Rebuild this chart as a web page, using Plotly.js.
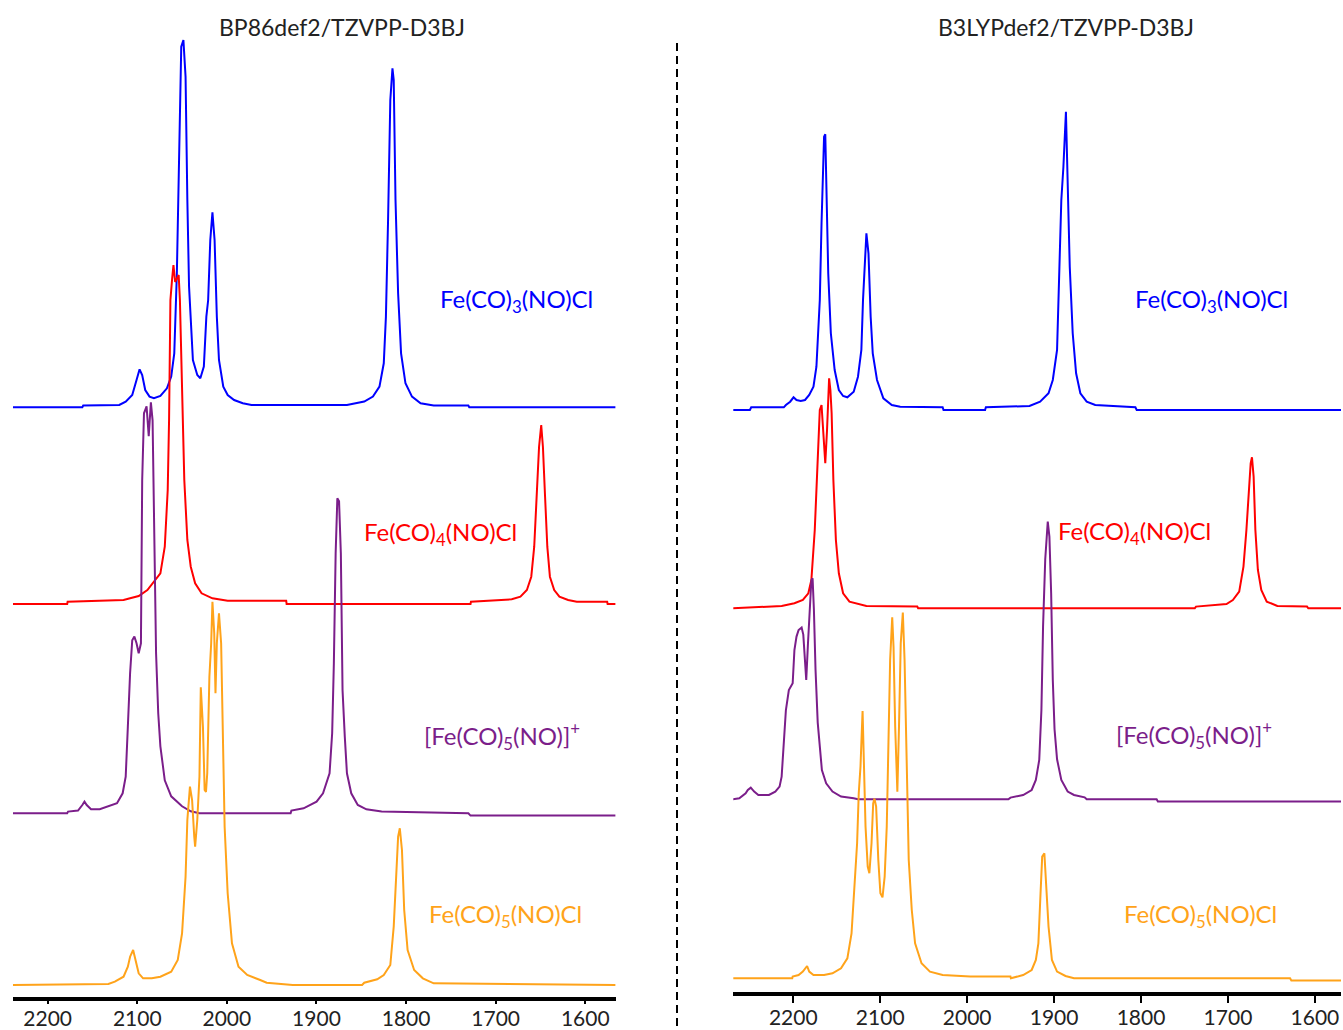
<!DOCTYPE html>
<html>
<head>
<meta charset="utf-8">
<script src="https://cdn.plot.ly/plotly-3.0.1.min.js"></script>
<style>
  html, body { margin: 0; padding: 0; background: #fff; }
  #chart { width: 1343px; height: 1030px; }
</style>
</head>
<body>
<div id="chart"></div>
<script>
// Simulated IR spectra (wavenumber in cm^-1, intensity in arbitrary units),
// four species per functional, stacked with vertical offsets.

const ticksWn = [2200, 2100, 2000, 1900, 1800, 1700, 1600];
const species = ['Fe(CO)<sub>3</sub>(NO)Cl', 'Fe(CO)<sub>4</sub>(NO)Cl',
                 '[Fe(CO)<sub>5</sub>(NO)]<sup>+</sup>', 'Fe(CO)<sub>5</sub>(NO)Cl'];
const titles = ['BP86def2/TZVPP-D3BJ', 'B3LYPdef2/TZVPP-D3BJ'];

// ---- BP86 spectra: [wavenumber, intensity] ----
const bp86_FeCO3 = [[2238.7,0],[2161.3,0],[2160.3,1.7],[2120.1,2.3],[2112.9,5.7],[2105.6,12.3],[2100.8,27.3],[2097.4,38],[2094.5,32.3],[2091.1,17.3],[2086.3,10.7],[2081.4,9],[2074.2,11.3],[2066.9,19],[2062.1,30.7],[2058.7,54],[2055.8,134],[2053.8,230.7],[2050.9,360.7],[2048.5,367.3],[2046.1,330.7],[2044.1,207.3],[2042.2,120.7],[2037.9,47.3],[2033.0,32.3],[2029.6,29],[2025.7,40.7],[2022.9,90.7],[2020.9,107],[2018.5,167.3],[2016.1,195],[2013.7,167.3],[2011.2,90.7],[2008.8,47.3],[2004.0,20.7],[1999.1,12.3],[1991.9,7.3],[1982.2,4],[1972.5,2.3],[1866.0,2.3],[1856.3,4],[1846.7,5.7],[1837.0,10.7],[1829.7,20.7],[1824.9,44],[1822.5,90.7],[1820.1,187.3],[1817.6,307.3],[1815.2,339],[1813.8,327.3],[1811.8,207.3],[1808.9,114],[1805.6,54],[1800.7,24],[1793.4,10.7],[1783.8,4],[1769.2,1.7],[1730.5,1.7],[1729.5,0],[1566,0]];
const bp86_FeCO4 = [[2238.7,0],[2178.2,0],[2177.7,2.3],[2115.3,4],[2108.0,5.7],[2098.4,8],[2088.7,14],[2081.4,22.3],[2074.2,30.7],[2069.3,57.3],[2066.0,114],[2064.5,184],[2063.0,304],[2061.1,325],[2059.6,339],[2057.7,322],[2055.8,326],[2053.8,329],[2052.4,304],[2050.9,240],[2049.9,224],[2047.5,124],[2044.1,64],[2040.3,37.3],[2035.4,20.7],[2028.2,10.7],[2016.1,5.7],[2006.4,4],[1999.1,3.3],[1933.8,3.3],[1933.3,0],[1728.1,0],[1727.6,2.3],[1682.1,4.7],[1672.4,7.3],[1665.2,14],[1660.3,27.3],[1657.0,57.3],[1654.0,107.3],[1651.6,157.3],[1649.2,179],[1647.3,157.3],[1644.9,107.3],[1642.4,57.3],[1639.5,27.3],[1634.7,14],[1628.9,7.3],[1619.2,4],[1609.5,2.3],[1575.6,2.3],[1575.1,0],[1566,0]];
const bp86_FeCO5cat = [[2238.7,0],[2178.2,0],[2177.2,1.7],[2166.1,2.7],[2161.3,8.3],[2158.9,11.7],[2156.4,8.3],[2151.6,4],[2141.9,4],[2132.2,6.7],[2122.6,10],[2116.3,20],[2112.9,36.7],[2110.5,86.7],[2108.0,140],[2105.6,173],[2103.2,176.7],[2100.8,170],[2098.4,160],[2095.9,170],[2094.5,333],[2092.5,400],[2089.6,407],[2087.2,377],[2084.8,411],[2082.9,393],[2080.4,267],[2079.0,160],[2076.6,100],[2074.2,67],[2069.3,33],[2062.1,17],[2050.0,7],[2040.3,2],[2030.6,0],[1928.9,0],[1928.0,2.7],[1914.4,5],[1899.9,11.7],[1892.7,20],[1885.4,40],[1882.5,80],[1880.6,150],[1878.6,260],[1876.7,315],[1874.8,312],[1872.8,260],[1870.9,123],[1868.4,76.7],[1866.0,40],[1861.2,20],[1853.9,8.3],[1844.3,4],[1827.3,1.7],[1730.5,0],[1728.1,-2.3],[1566,-2.3]];
const bp86_FeCO5Cl = [[2238.7,0],[2132.2,1],[2125.0,3.3],[2115.3,8.3],[2110.5,18.3],[2108.0,28.3],[2104.6,35],[2101.7,25],[2098.4,11.7],[2093.5,6.7],[2083.8,6.7],[2074.2,8.3],[2062.1,13.3],[2054.8,25],[2050.0,51.7],[2046.1,108.3],[2044.1,165],[2041.2,198.3],[2038.8,185],[2036.4,148.3],[2035.4,138.3],[2033.0,165],[2030.6,208.3],[2029.1,297.7],[2026.7,258.3],[2024.8,195],[2023.3,193],[2021.9,211.7],[2019.5,308.3],[2017.5,341.7],[2016.1,383.3],[2014.1,351.7],[2012.7,291.7],[2011.2,341.7],[2008.8,371.7],[2006.4,341.7],[2004.5,258.3],[2002.5,158.3],[1999.1,91.7],[1994.3,41.7],[1987.0,18.3],[1977.3,10],[1962.8,5],[1955.6,2.3],[1926.5,0],[1849.1,0],[1846.7,2.3],[1832.2,5.7],[1824.9,10],[1817.6,20],[1813.8,58.3],[1811.3,108.3],[1808.9,148.3],[1807.0,156.7],[1804.6,135],[1802.1,75],[1798.3,35],[1791.0,15],[1781.3,6.7],[1769.2,1.7],[1566,0]];

// ---- B3LYP spectra: [wavenumber, intensity] ----
const b3lyp_FeCO3 = [[2269.4,0],[2249.9,0],[2248.4,2.7],[2210.9,2.7],[2208.5,5],[2203.6,8.3],[2199.7,12.7],[2196.3,10],[2191.4,9],[2186.5,10],[2181.7,15],[2176.8,23.3],[2173.4,43.3],[2169.5,110],[2167.5,186.7],[2164.6,273.3],[2163.2,275.7],[2161.7,223.3],[2159.8,136.7],[2156.8,76.7],[2152.4,40],[2147.6,20],[2142.7,14],[2137.8,12.7],[2130.5,18.3],[2125.6,33.3],[2121.7,60],[2119.8,110],[2117.4,150],[2115.9,176.7],[2113.5,156.7],[2111.0,93.3],[2108.6,56.7],[2103.7,30],[2096.4,11.7],[2086.7,5],[2077.0,3.3],[2028.2,2.7],[2027.2,0],[1979.4,0],[1978.5,2.7],[1928.3,4],[1916.1,8.3],[1906.4,16.7],[1901.5,30],[1896.6,60],[1891.7,210],[1889.3,243.3],[1886.4,298.3],[1884.4,236.7],[1882.0,143.3],[1878.6,76.7],[1874.7,36.7],[1869.8,16.7],[1862.5,8.3],[1852.7,5],[1806.5,2.7],[1805.0,0],[1570,0]];
const b3lyp_FeCO4 = [[2269.4,0],[2213.4,2.3],[2198.7,5],[2189.0,8.3],[2182.7,15],[2179.2,28.3],[2175.3,78.3],[2171.9,145],[2169.5,198.3],[2167.5,203.3],[2165.6,178.3],[2163.2,145],[2161.2,178],[2159.7,215],[2158.8,230],[2157.3,218],[2155.9,195],[2153.9,128.3],[2151.0,68.3],[2147.6,35],[2142.7,15],[2135.4,6.7],[2125.6,4.3],[2115.9,2.3],[2057.4,1.7],[2056.4,0],[1738.2,0],[1736.8,1.7],[1701.7,4.3],[1694.4,8.3],[1687.1,16.7],[1682.2,41.7],[1678.8,78.3],[1676.3,118.3],[1673.9,145],[1672.4,151],[1670.5,131.7],[1668.5,78.3],[1665.6,38.3],[1661.7,18.3],[1655.4,6.7],[1643.2,2.3],[1609.1,1.7],[1607.6,0],[1570,0]];
const b3lyp_FeCO5cat = [[2269.4,0],[2262.1,1],[2254.8,6],[2252.3,9.3],[2248.9,11.7],[2245.0,7.7],[2240.2,4.3],[2228.0,4.3],[2220.7,7.7],[2215.8,12.7],[2213.4,22.7],[2211.0,52.7],[2208.5,89.3],[2205.1,109.3],[2202.6,114],[2200.7,116],[2198.7,149.3],[2196.3,162.7],[2193.9,169.3],[2190.4,171.7],[2188.5,164.7],[2186.5,129.3],[2185.1,119.3],[2183.1,156],[2181.2,189.3],[2179.2,219.3],[2177.8,221],[2176.3,190],[2174.4,129.3],[2171.9,76.7],[2167.1,29.3],[2162.2,16],[2154.9,7.7],[2145.1,2.7],[2130.5,1],[2125.6,0],[1952.6,0],[1950.2,1.7],[1935.6,4.3],[1925.8,9.3],[1921.0,19.3],[1917.1,39.3],[1914.6,89.3],[1912.7,172.7],[1910.2,240],[1908.3,272],[1907.3,277.7],[1905.4,262.7],[1903.4,206],[1901.5,119.3],[1899.5,70],[1896.6,40],[1891.7,19.3],[1884.4,7.7],[1877.1,4.3],[1864.9,2],[1862.5,0],[1782.1,0],[1780.6,-2.3],[1570,-2.3]];
const b3lyp_FeCO5Cl = [[2269.4,0],[2201.2,0],[2200.7,1.7],[2193.9,3.3],[2189.0,6.7],[2186.5,9.7],[2184.1,12.3],[2181.7,6.7],[2176.8,3.3],[2164.6,3.3],[2154.9,5],[2145.1,10],[2137.8,20],[2133.0,45],[2129.5,101.7],[2126.6,135],[2124.7,185],[2122.7,211.7],[2120.3,267.3],[2118.8,211.7],[2116.9,151.7],[2114.4,111.7],[2112.5,105],[2110.0,135],[2108.1,175],[2106.6,179.7],[2104.7,171.7],[2102.2,118.3],[2099.8,85],[2097.4,81],[2094.9,101.7],[2092.5,151.7],[2090.5,245],[2088.6,318.3],[2086.2,361],[2084.7,331.7],[2082.8,251.7],[2080.3,186.7],[2078.4,251.7],[2076.4,335],[2074.0,365.7],[2072.0,318.3],[2069.6,218.3],[2067.2,118.3],[2063.7,68.3],[2059.9,35],[2052.5,15],[2042.8,6.7],[2028.2,3.3],[1996.5,1.7],[1950.2,1.7],[1949.7,0],[1935.6,3.3],[1925.8,8.3],[1921.0,18.3],[1918.1,35],[1915.6,85],[1913.7,121.7],[1911.2,125],[1908.8,85],[1906.4,51.7],[1902.5,18.3],[1896.6,6.7],[1886.9,2.3],[1877.1,0],[1628.6,0],[1627.1,-2.3],[1570,-2.3]];

// Vertical stacking offsets for each species (same order as species[])
const bp86Offsets  = [589.4, 392.7, 183.4, 11.7];
const b3lypOffsets = [582.3, 384.0, 193.0, 14.0];

const colors = ['#0000FF', '#FF0000', '#7B1E8A', '#FFA31A'];

// ---------- figure geometry (pixels) ----------
const W = 1343, H = 1030;
const px = x => x / W;
const py = y => 1 - y / H;

const FONT = 'Lato, "Open Sans", sans-serif';

function makeTraces(sets, offsets, xa, ya) {
  return sets.map((pts, i) => ({
    type: 'scatter', mode: 'lines',
    x: pts.map(p => p[0]),
    y: pts.map(p => p[1] + offsets[i]),
    xaxis: xa, yaxis: ya,
    line: { color: colors[i], width: 2, shape: 'linear' },
    hoverinfo: 'x', showlegend: false
  }));
}

const traces = [
  ...makeTraces([bp86_FeCO3, bp86_FeCO4, bp86_FeCO5cat, bp86_FeCO5Cl], bp86Offsets, 'x', 'y'),
  ...makeTraces([b3lyp_FeCO3, b3lyp_FeCO4, b3lyp_FeCO5cat, b3lyp_FeCO5Cl], b3lypOffsets, 'x2', 'y2')
];

function xAxis(domain, range, anchor, tickLen, standoff) {
  return {
    domain, range, anchor,
    tickmode: 'array', tickvals: ticksWn, ticktext: ticksWn.map(String),
    ticks: 'outside', ticklen: tickLen, tickwidth: 2, tickcolor: '#000',
    ticklabelstandoff: standoff,
    showline: true, linewidth: 4, linecolor: '#000',
    showgrid: false, zeroline: false,
    tickfont: { family: FONT, size: 21, color: '#222' },
    fixedrange: true
  };
}
function yAxis(bottomPx, topPx, anchor) {
  const d0 = py(bottomPx), d1 = py(topPx);
  return {
    domain: [d0, d1], range: [0, bottomPx - topPx], anchor,
    visible: false, showgrid: false, zeroline: false, fixedrange: true
  };
}

// Species labels: [species index, centre x px, centre y px]
const labelPos = [
  [0, 516, 300], [1, 440, 533], [2, 502, 736], [3, 505, 915],
  [0, 1211, 300], [1, 1134, 532], [2, 1194, 735], [3, 1200, 915]
];

const annotations = labelPos.map(([i, x, y]) => ({
  xref: 'paper', yref: 'paper', x: px(x), y: py(y),
  xanchor: 'center', yanchor: 'middle', showarrow: false,
  text: species[i],
  font: { family: FONT, size: 24, color: colors[i] }
}));
annotations.push(
  { xref: 'paper', yref: 'paper', x: px(342), y: py(27), xanchor: 'center', yanchor: 'middle',
    showarrow: false, text: titles[0], font: { family: FONT, size: 23, color: '#222' } },
  { xref: 'paper', yref: 'paper', x: px(1066), y: py(27), xanchor: 'center', yanchor: 'middle',
    showarrow: false, text: titles[1], font: { family: FONT, size: 23, color: '#222' } }
);

const layout = {
  width: W, height: H,
  margin: { l: 0, r: 0, t: 0, b: 0 },
  paper_bgcolor: '#fff', plot_bgcolor: '#fff',
  showlegend: false,
  xaxis:  xAxis([px(12.7), px(615.5)], [2239, 1566.3], 'y', 3, -3),
  xaxis2: xAxis([px(733.3), px(1341)], [2269, 1570], 'y2', 7, -4),
  yaxis:  yAxis(996.7, 30, 'x'),
  yaxis2: yAxis(992.3, 30, 'x2'),
  annotations,
  shapes: [{
    type: 'line', xref: 'paper', yref: 'paper',
    x0: px(677), x1: px(677), y0: py(43), y1: 0,
    line: { color: '#000', width: 2, dash: '8px,5px' }
  }]
};

Plotly.newPlot('chart', traces, layout, { staticPlot: true, displayModeBar: false });
</script>
</body>
</html>
